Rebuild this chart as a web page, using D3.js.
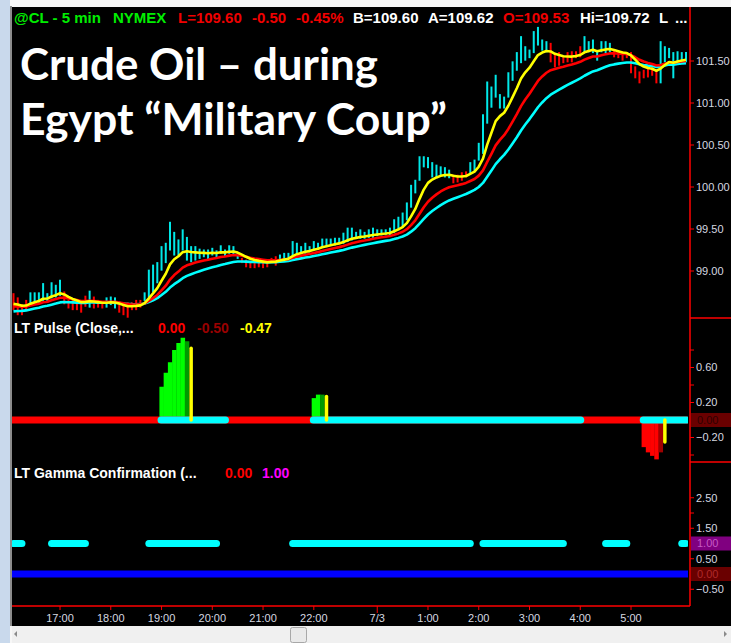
<!DOCTYPE html>
<html>
<head>
<meta charset="utf-8">
<script src="https://cdn.jsdelivr.net/npm/d3@7/dist/d3.min.js"></script>
<style>
html, body { margin: 0; padding: 0; background: #fff; }
svg { display: block; }
</style>
</head>
<body>
<div id="chart"></div>
<script>
// 5 min bars of @CL (high / low / up-down paint)
var barHigh = [
  98.73, 98.68, 98.60, 98.65, 98.74, 98.74, 98.74, 98.85, 98.73, 98.86,
  98.83, 98.89, 98.75, 98.65, 98.65, 98.65, 98.63, 98.70, 98.76, 98.69,
  98.65, 98.63, 98.68, 98.69, 98.68, 98.63, 98.62, 98.62, 98.62, 98.65,
  98.65, 98.74, 99.01, 99.07, 99.10, 99.29, 99.33, 99.58, 99.46, 99.37,
  99.49, 99.40, 99.29, 99.29, 99.26, 99.25, 99.25, 99.27, 99.24, 99.30,
  99.25, 99.30, 99.29, 99.21, 99.15, 99.13, 99.11, 99.13, 99.13, 99.13,
  99.11, 99.15, 99.17, 99.19, 99.21, 99.21, 99.35, 99.33, 99.29, 99.33,
  99.29, 99.35, 99.33, 99.38, 99.38, 99.38, 99.39, 99.39, 99.45, 99.51,
  99.51, 99.46, 99.49, 99.46, 99.49, 99.51, 99.49, 99.49, 99.49, 99.51,
  99.61, 99.64, 99.69, 99.81, 100.02, 100.08, 100.36, 100.36, 100.35, 100.29,
  100.26, 100.24, 100.23, 100.20, 100.14, 100.14, 100.17, 100.18, 100.29, 100.32,
  100.52, 100.86, 101.25, 101.19, 101.33, 101.10, 101.07, 101.36, 101.49, 101.60,
  101.79, 101.67, 101.63, 101.85, 101.90, 101.75, 101.73, 101.71, 101.57, 101.60,
  101.55, 101.60, 101.61, 101.61, 101.67, 101.79, 101.73, 101.75, 101.61, 101.73,
  101.73, 101.71, 101.63, 101.61, 101.61, 101.60, 101.60, 101.43, 101.37, 101.39,
  101.42, 101.43, 101.39, 101.73, 101.67, 101.65, 101.60, 101.61, 101.60, 101.60
];
var barLow = [
  98.54, 98.48, 98.48, 98.54, 98.62, 98.62, 98.63, 98.65, 98.63, 98.68,
  98.69, 98.71, 98.61, 98.56, 98.54, 98.54, 98.51, 98.58, 98.57, 98.56,
  98.57, 98.56, 98.57, 98.60, 98.56, 98.51, 98.48, 98.45, 98.54, 98.54,
  98.57, 98.65, 98.69, 98.75, 98.86, 99.01, 99.10, 99.25, 99.19, 99.19,
  99.25, 99.13, 99.11, 99.13, 99.15, 99.17, 99.15, 99.19, 99.17, 99.21,
  99.18, 99.21, 99.19, 99.15, 99.10, 99.05, 99.04, 99.04, 99.05, 99.04,
  99.05, 99.10, 99.07, 99.13, 99.13, 99.15, 99.19, 99.21, 99.23, 99.21,
  99.23, 99.25, 99.27, 99.29, 99.29, 99.31, 99.31, 99.33, 99.33, 99.35,
  99.37, 99.39, 99.39, 99.39, 99.40, 99.40, 99.42, 99.43, 99.43, 99.43,
  99.46, 99.49, 99.52, 99.61, 99.76, 99.93, 100.08, 100.24, 100.23, 100.12,
  100.12, 100.14, 100.12, 100.11, 100.05, 100.06, 100.08, 100.12, 100.17, 100.20,
  100.32, 100.40, 100.76, 100.95, 101.07, 100.94, 100.94, 101.07, 101.27, 101.39,
  101.48, 101.51, 101.54, 101.60, 101.69, 101.63, 101.61, 101.49, 101.43, 101.45,
  101.48, 101.49, 101.49, 101.54, 101.55, 101.61, 101.61, 101.60, 101.51, 101.61,
  101.60, 101.61, 101.55, 101.54, 101.51, 101.54, 101.36, 101.30, 101.24, 101.30,
  101.31, 101.33, 101.24, 101.24, 101.49, 101.54, 101.30, 101.48, 101.48, 101.49
];
var barUp = [
  0,0,0,0,1,1,1,1,1,1, 1,1,0,0,0,0,0,0,1,0, 0,0,1,1,1,0,0,0,0,0, 0,1,1,1,1,1,1,1,1,1,
  1,1,1,1,1,1,1,1,1,1, 1,1,1,1,0,0,0,0,0,0, 0,0,0,1,1,1,1,1,1,1, 1,1,1,1,1,1,1,1,1,1,
  1,1,1,1,1,1,1,1,1,1, 1,1,1,1,1,1,1,1,1,1, 1,1,1,1,0,0,0,0,1,1, 1,1,1,1,1,1,1,1,1,1,
  1,1,1,1,1,1,1,0,0,0, 0,0,0,0,0,1,1,1,1,1, 1,1,0,0,0,0,0,0,0,0, 0,0,0,1,1,1,1,1,1,1
];
// moving averages: periods and the values they carry in from before the first bar
var maPeriods = [25, 15, 7];
var maSeeds = [98.51, 98.57, 98.60];
var maColors = ["#00ffff", "#ff0000", "#ffff00"];

// LT Pulse histogram and its signal
var pulseIndex = [35, 36, 37, 38, 39, 40, 41, 71, 72, 73, 149, 150, 151, 152, 153];
var pulseValue = [0.38, 0.54, 0.66, 0.80, 0.88, 0.94, 0.90, 0.25, 0.29, 0.29, -0.31, -0.37, -0.41, -0.45, -0.37];
var signalIndex = [42, 74, 154];
var signalValue = [0.82, 0.27, -0.25];
var pulseOn = [[35, 50], [71, 134], [149, 159]];

// LT Gamma Confirmation: runs of bars where it reads 1
var gammaOn = [[0, 2], [9, 17], [32, 48], [66, 108], [111, 130], [140, 145], [158, 159]];

var timeIndex = [11, 23, 35, 47, 59, 71, 86, 98, 110, 122, 134, 146];
var timeLabel = ["17:00", "18:00", "19:00", "20:00", "21:00", "22:00", "7/3", "1:00", "2:00", "3:00", "4:00", "5:00"];
var priceTicks = [99, 99.5, 100, 100.5, 101, 101.5];
var pulseTicks = [0.6, 0.2, -0.2];
var pulseMinor = [0.8, 0.4, -0.4];
var gammaTicks = [2.5, 1.5, 0.5, -0.5];
var gammaMinor = [2.0];

var W = 731, H = 643, axisX = 690;
var font = "'Liberation Sans', Arial, sans-serif";

var svg = d3.select("#chart").append("svg").attr("width", W).attr("height", H)
    .style("font-family", font);

// window frame
svg.append("rect").attr("width", W).attr("height", H).attr("fill", "#f7f7f7");
svg.append("rect").attr("x", 0).attr("y", 0).attr("width", 10).attr("height", H).attr("fill", "#c9d9ec");
svg.append("rect").attr("x", 10).attr("y", 6).attr("width", 2).attr("height", 620).attr("fill", "#8c8c8c");
svg.append("rect").attr("x", 12).attr("y", 7).attr("width", W - 12).attr("height", 619).attr("fill", "#000");

var defs = svg.append("defs");
defs.append("clipPath").attr("id", "clipPlot").append("rect")
    .attr("x", 12).attr("y", 7).attr("width", 676).attr("height", 599);

var x = d3.scaleLinear().domain([0, barHigh.length - 1]).range([13.5, 686]);
var yP = d3.scaleLinear().domain([99, 101.5]).range([271, 61]);
var yPulse = d3.scaleLinear().domain([0, 0.6]).range([420, 367.5]);
var yG = d3.scaleLinear().domain([0, 1]).range([574, 543.5]);
var step = x(1) - x(0);

var plot = svg.append("g").attr("clip-path", "url(#clipPlot)");

// ---- price panel
plot.append("g").selectAll("line").data(barHigh).enter().append("line")
    .attr("x1", function(d, i){ return x(i); })
    .attr("x2", function(d, i){ return x(i); })
    .attr("y1", function(d){ return yP(d) - 0.5; })
    .attr("y2", function(d, i){ return yP(barLow[i]) + 0.5; })
    .attr("stroke", function(d, i){ return barUp[i] ? "#00e8e8" : "#ff0000"; })
    .attr("stroke-width", 2);

function ema(period, seed){
    var a = 2 / (period + 1), v = seed;
    return barHigh.map(function(h, i){
        var m = (h + barLow[i]) / 2;
        v = v + a * (m - v);
        return v;
    });
}
var line = d3.line().x(function(d, i){ return x(i); }).y(function(d){ return yP(d); });
maPeriods.forEach(function(p, k){
    plot.append("path").datum(ema(p, maSeeds[k]))
        .attr("d", line).attr("fill", "none")
        .attr("stroke", maColors[k]).attr("stroke-width", 2.6)
        .attr("stroke-linejoin", "round");
});

// ---- LT Pulse panel
pulseIndex.forEach(function(idx, k){
    var v = pulseValue[k];
    var prev = (k > 0 && pulseIndex[k - 1] === idx - 1) ? pulseValue[k - 1] : 0;
    var col;
    if (v >= 0) col = (v > prev) ? "#00ff00" : "#009a00";
    else col = (v < prev) ? "#ff0000" : "#a00000";
    var y0 = yPulse(0), y1 = yPulse(v);
    plot.append("rect")
        .attr("x", x(idx) - step / 2).attr("width", step + 0.3)
        .attr("y", Math.min(y0, y1)).attr("height", Math.abs(y1 - y0))
        .attr("fill", col);
});
plot.append("line").attr("x1", 12).attr("x2", 688)
    .attr("y1", yPulse(0)).attr("y2", yPulse(0))
    .attr("stroke", "#ff0000").attr("stroke-width", 7);
pulseOn.forEach(function(r){
    plot.append("line").attr("x1", x(r[0]) - 0.5).attr("x2", x(r[1]) + 0.5)
        .attr("y1", yPulse(0)).attr("y2", yPulse(0))
        .attr("stroke", "#00ffff").attr("stroke-width", 7).attr("stroke-linecap", "round");
});
signalIndex.forEach(function(idx, k){
    plot.append("line").attr("x1", x(idx)).attr("x2", x(idx))
        .attr("y1", yPulse(0)).attr("y2", yPulse(signalValue[k]))
        .attr("stroke", "#ffff00").attr("stroke-width", 3.5).attr("stroke-linecap", "round");
});

// ---- LT Gamma panel
plot.append("line").attr("x1", 12).attr("x2", 688)
    .attr("y1", yG(0)).attr("y2", yG(0))
    .attr("stroke", "#0000ff").attr("stroke-width", 7);
gammaOn.forEach(function(r){
    plot.append("line").attr("x1", x(r[0])).attr("x2", x(r[1]))
        .attr("y1", yG(1)).attr("y2", yG(1))
        .attr("stroke", "#00ffff").attr("stroke-width", 7).attr("stroke-linecap", "round");
});

// ---- axes and panel borders
var red = "#ff0000", axisText = "#d6d9e0";
svg.append("line").attr("x1", axisX).attr("x2", axisX).attr("y1", 7).attr("y2", 606)
    .attr("stroke", red).attr("stroke-width", 1.5);
svg.append("line").attr("x1", 12).attr("x2", axisX).attr("y1", 606).attr("y2", 606)
    .attr("stroke", red).attr("stroke-width", 1.5);
[318, 462].forEach(function(yy){
    svg.append("line").attr("x1", axisX).attr("x2", W).attr("y1", yy).attr("y2", yy)
        .attr("stroke", red).attr("stroke-width", 1.5);
});

function valueBox(yy, fill, txt, txtCol){
    svg.append("rect").attr("x", axisX + 1).attr("y", yy - 7).attr("width", W - axisX - 1).attr("height", 14)
        .attr("fill", fill);
    svg.append("text").attr("x", 697).attr("y", yy).attr("dy", "0.36em")
        .attr("font-size", 11).attr("fill", txtCol).text(txt);
}
function axisLabels(scale, labels, minor){
    labels.concat(minor).forEach(function(v){
        svg.append("line").attr("x1", axisX).attr("x2", axisX + 4)
            .attr("y1", scale(v)).attr("y2", scale(v)).attr("stroke", red).attr("stroke-width", 1);
    });
    svg.append("g").selectAll("text").data(labels).enter().append("text")
        .attr("x", 696).attr("y", function(d){ return scale(d); }).attr("dy", "0.36em")
        .attr("font-size", 11).attr("fill", axisText)
        .text(function(d){ return d3.format(".2f")(d); });
}
axisLabels(yP, priceTicks, []);
axisLabels(yPulse, pulseTicks, pulseMinor);
axisLabels(yG, gammaTicks, gammaMinor);
valueBox(yPulse(0), "#6a0000", "0.00", "#2e0000");
valueBox(yG(1), "#800080", "1.00", "#c65ac6");
valueBox(yG(0), "#6a0000", "0.00", "#b02a2a");

// time axis
timeIndex.forEach(function(idx, k){
    svg.append("line").attr("x1", x(idx)).attr("x2", x(idx))
        .attr("y1", 606).attr("y2", timeLabel[k] === "7/3" ? 613 : 610)
        .attr("stroke", red).attr("stroke-width", 1);
    svg.append("text").attr("x", x(idx)).attr("y", 622).attr("text-anchor", "middle")
        .attr("font-size", 11).attr("fill", axisText).text(timeLabel[k]);
});

// ---- header and panel titles
function label(items, yy, size){
    items.forEach(function(it){
        svg.append("text").attr("x", it[1]).attr("y", yy)
            .attr("font-size", size).attr("font-weight", "bold")
            .attr("fill", it[2]).text(it[0]);
    });
}
label([["@CL - 5 min", 14, "#00ee00"], ["NYMEX", 113, "#00ee00"],
       ["L=109.60", 178, "#f00000"], ["-0.50", 252, "#f00000"], ["-0.45%", 296, "#f00000"],
       ["B=109.60", 353, "#ffffff"], ["A=109.62", 428, "#ffffff"],
       ["O=109.53", 503, "#f00000"], ["Hi=109.72", 580, "#ffffff"], ["L", 659, "#ffffff"], ["...", 675, "#ffffff"]],
      23, 15);
label([["LT Pulse (Close,...", 14, "#ffffff"], ["0.00", 158, "#ff0000"],
       ["-0.50", 197, "#9a0000"], ["-0.47", 240, "#ffff00"]], 333, 14);
label([["LT Gamma Confirmation (...", 14, "#ffffff"], ["0.00", 225, "#ff0000"],
       ["1.00", 262, "#ff00ff"]], 478, 14);

// ---- big title
var titleLines = ["Crude Oil \u2013 during", "Egypt \u201cMilitary Coup\u201d"];
var titleWidth = [358, 427];
var probe = svg.append("text").attr("font-family", "Lato, 'Open Sans', sans-serif")
    .attr("font-weight", "bold").attr("font-size", 48).text(titleLines[0]);
var fs = 48 * titleWidth[0] / probe.node().getComputedTextLength();
probe.remove();
titleLines.forEach(function(t, k){
    svg.append("text").attr("x", 20).attr("y", 80 + k * 55)
        .attr("font-family", "Lato, 'Open Sans', sans-serif").attr("font-weight", "bold")
        .attr("font-size", fs).attr("fill", "#ffffff")
        .attr("textLength", titleWidth[k]).attr("lengthAdjust", "spacingAndGlyphs")
        .text(t);
});

// ---- scrollbar
svg.append("rect").attr("x", 12).attr("y", 626).attr("width", W - 12).attr("height", 17).attr("fill", "#f0f0f0");
svg.append("path").attr("d", "M14,634 L17,631 L17,637 Z").attr("fill", "#8a8a8a");
svg.append("path").attr("d", "M727,634 L724,631 L724,637 Z").attr("fill", "#8a8a8a");
svg.append("rect").attr("x", 290.5).attr("y", 627.5).attr("width", 16).attr("height", 15)
    .attr("rx", 2).attr("fill", "#e9e9e9").attr("stroke", "#a8a8a8");
</script>
</body>
</html>
